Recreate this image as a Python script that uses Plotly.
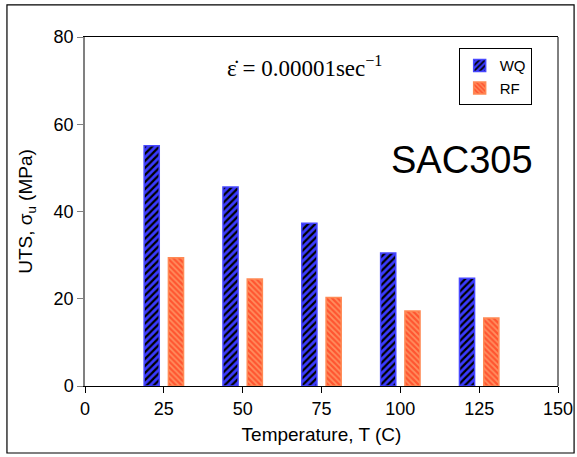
import plotly.graph_objects as go

temps = [25, 50, 75, 100, 125]
wq_uts = [55.1, 45.6, 37.3, 30.5, 24.7]
rf_uts = [29.4, 24.5, 20.3, 17.2, 15.6]

FONT = "Liberation Sans, Arial, sans-serif"

fig = go.Figure()
fig.add_trace(go.Bar(
    x=temps, y=wq_uts, name="WQ", width=4.8, offset=-6.25,
    marker=dict(color="#3a3aff", line=dict(color="#4848ff", width=1.5),
                pattern=dict(shape="/", bgcolor="#3a3aff", fgcolor="#000000",
                             size=5, solidity=0.45, fillmode="replace")),
))
fig.add_trace(go.Bar(
    x=temps, y=rf_uts, name="RF", width=4.8, offset=1.45,
    marker=dict(color="#ff5530", line=dict(color="#ff8a55", width=1.5),
                pattern=dict(shape="\\", bgcolor="#ff5530", fgcolor="#ff9060",
                             size=4, solidity=0.45, fillmode="replace")),
))

fig.update_layout(
    width=577, height=457,
    margin=dict(l=85, r=19, t=37, b=71, autoexpand=False),
    paper_bgcolor="white", plot_bgcolor="white",
    font=dict(family=FONT, size=18, color="black"),
    showlegend=True,
    legend=dict(x=0.79, y=0.968, xanchor="left", yanchor="top",
                bgcolor="white", bordercolor="black", borderwidth=1,
                font=dict(size=15, family=FONT)),
    xaxis=dict(range=[0, 150], tickvals=[0, 25, 50, 75, 100, 125, 150], automargin=False,
               showgrid=False, zeroline=False, showline=True, linecolor="black",
               linewidth=1, mirror=True, ticks="outside", ticklen=6, tickcolor="black",
               title=dict(text="Temperature, T (C)", font=dict(size=19), standoff=10)),
    yaxis=dict(range=[0, 80], tickvals=[0, 20, 40, 60, 80], automargin=False,
               showgrid=False, zeroline=False, showline=True, linecolor="#808080",
               linewidth=1.5, ticks="outside", ticklen=6, tickcolor="#808080",
               title=dict(text="UTS, σ<sub>u</sub> (MPa)", font=dict(size=19), standoff=16)),
)

# right frame line of the plot area
fig.add_shape(type="line", xref="paper", yref="paper", x0=1, x1=1, y0=0, y1=1,
              line=dict(color="black", width=1))
# outer border
fig.add_shape(type="rect", xref="paper", yref="paper",
              x0=-0.165, x1=1.034, y0=-0.192, y1=1.092,
              line=dict(color="black", width=1.2))

fig.add_annotation(text="ε\u0307 = 0.00001sec<sup>\u22121</sup>", xref="paper", yref="paper",
                   x=0.465, y=0.915, xanchor="center", yanchor="middle", showarrow=False,
                   font=dict(family="Liberation Serif, Times New Roman, serif", size=23))
fig.add_annotation(text="SAC305", xref="paper", yref="paper",
                   x=0.797, y=0.648, xanchor="center", yanchor="middle", showarrow=False,
                   font=dict(family=FONT, size=38))

fig.write_html("out.html")
